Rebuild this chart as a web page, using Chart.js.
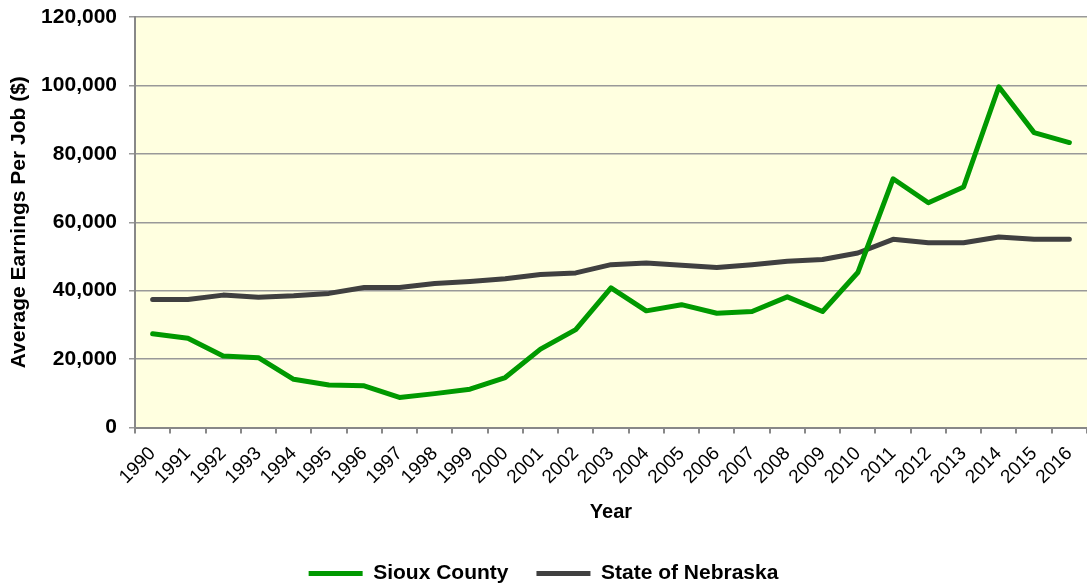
<!DOCTYPE html>
<html>
<head>
<meta charset="utf-8">
<script src="https://cdn.jsdelivr.net/npm/chart.js@4"></script>
<style>
  html, body { margin: 0; padding: 0; background: #ffffff; }
  #wrap { width: 1087px; height: 586px; }
</style>
</head>
<body>
<div id="wrap"><canvas id="c" width="1087" height="586"></canvas></div>
<script>
const years = ['1990','1991','1992','1993','1994','1995','1996','1997','1998','1999','2000','2001','2002','2003','2004','2005','2006','2007','2008','2009','2010','2011','2012','2013','2014','2015','2016'];
const siouxCounty = [27400, 26100, 20900, 20400, 14100, 12400, 12200, 8800, 9900, 11200, 14600, 22900, 28600, 40800, 34100, 35900, 33400, 33900, 38200, 33900, 45300, 72700, 65700, 70300, 99600, 86200, 83300];
const stateOfNebraska = [37400, 37400, 38700, 38100, 38500, 39200, 40900, 40900, 42100, 42700, 43500, 44700, 45200, 47600, 48100, 47400, 46800, 47600, 48600, 49100, 51000, 55000, 54000, 54000, 55700, 55000, 55000];
const yTicks = { min: 0, max: 120000, step: 20000 };
const seriesNames = ['Sioux County', 'State of Nebraska'];
const seriesColors = ['#009900', '#404040'];

const plotBg = {
  id: 'plotBg',
  beforeDraw(chart) {
    const a = chart.chartArea, ctx = chart.ctx;
    ctx.save();
    ctx.fillStyle = '#FFFFE0';
    ctx.fillRect(a.left, a.top, a.right - a.left, a.bottom - a.top);
    ctx.restore();
  }
};

new Chart(document.getElementById('c'), {
  type: 'line',
  data: {
    labels: years,
    datasets: [
      { label: seriesNames[0], data: siouxCounty, borderColor: seriesColors[0], backgroundColor: seriesColors[0],
        borderWidth: 5, pointRadius: 0, tension: 0, borderCapStyle: 'round', borderJoinStyle: 'round' },
      { label: seriesNames[1], data: stateOfNebraska, borderColor: seriesColors[1], backgroundColor: seriesColors[1],
        borderWidth: 5, pointRadius: 0, tension: 0, borderCapStyle: 'round', borderJoinStyle: 'round' }
    ]
  },
  options: {
    responsive: false,
    animation: false,
    devicePixelRatio: 1,
    layout: { padding: { top: 17, left: 0, right: 0, bottom: -8 } },
    plugins: {
      legend: {
        position: 'bottom',
        labels: {
          usePointStyle: true,
          pointStyle: 'line',
          pointStyleWidth: 54,
          padding: 28,
          color: '#000',
          font: { family: 'Liberation Sans, Arial, sans-serif', size: 21, weight: 'bold' }
        }
      },
      tooltip: { enabled: false }
    },
    scales: {
      x: {
        type: 'category',
        offset: true,
        grid: { offset: true, drawOnChartArea: false, color: '#888', lineWidth: 2, tickLength: 6 },
        border: { color: '#888', width: 2 },
        ticks: { color: '#000', minRotation: 45, maxRotation: 45, autoSkip: false, padding: 9,
                 font: { family: 'Liberation Sans, Arial, sans-serif', size: 19 } },
        title: { display: true, text: 'Year', color: '#000', padding: { top: 0, bottom: 11 },
                 font: { family: 'Liberation Sans, Arial, sans-serif', size: 20, weight: 'bold' } },
        afterFit(scale) { scale.height = 107.5; scale.paddingLeft = 0; scale.paddingRight = 0; }
      },
      y: {
        min: yTicks.min, max: yTicks.max,
        grid: { color: '#999', lineWidth: 1.5, tickLength: 6 },
        border: { color: '#888', width: 2 },
        ticks: { stepSize: yTicks.step, color: '#000', padding: 12,
                 font: { family: 'Liberation Sans, Arial, sans-serif', size: 21, weight: 'bold' },
                 callback: v => v.toLocaleString('en-US') },
        title: { display: true, text: 'Average Earnings Per Job ($)', color: '#000', padding: { top: 7, bottom: 0 },
                 font: { family: 'Liberation Sans, Arial, sans-serif', size: 21, weight: 'bold' } },
        afterFit(scale) { scale.width = 135; scale.paddingTop = 0; scale.paddingBottom = 0; }
      }
    }
  },
  plugins: [plotBg]
});
</script>
</body>
</html>
